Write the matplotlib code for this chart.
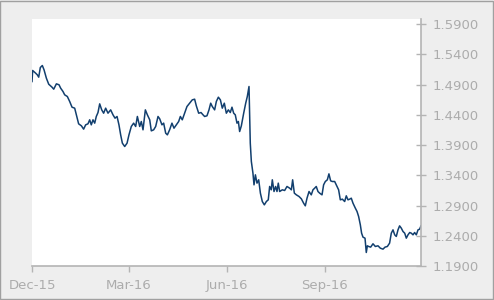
import numpy as np
import pandas as pd
import matplotlib
matplotlib.use("Agg")
import matplotlib.pyplot as plt
import matplotlib.dates as mdates
from matplotlib.patches import Rectangle

# days since 2015-12-01 and the exchange rate
DAYS = [
    0.0, 0.6, 3.4, 5.0, 6.3, 7.8, 9.7, 11.3, 13.5, 15.7, 18.8, 20.4, 22.9, 25.4,
    26.9, 29.1, 30.7, 33.2, 35.4, 37.6, 40.1, 41.7, 43.8, 46.4, 48.5, 50.4, 52.6,
    54.2, 55.7, 57.3, 58.9, 60.4, 62.0, 63.6, 65.5, 67.3, 69.2, 71.4, 73.9, 76.1,
    78.0, 79.9, 81.7, 83.3, 84.9, 87.1, 89.3, 91.1, 93.3, 95.5, 97.4, 99.0, 101.2,
    102.7, 104.3, 106.5, 108.4, 110.6, 112.1, 114.3, 116.2, 118.4, 120.0, 122.1,
    123.7, 125.6, 127.2, 129.3, 131.5, 133.4, 135.6, 137.8, 139.4, 141.2, 143.4,
    145.6, 148.1, 150.6, 152.8, 154.4, 156.6, 158.8, 160.7, 162.2, 164.4, 166.3,
    167.9, 169.4, 171.6, 173.2, 175.1, 177.0, 178.8, 180.7, 182.6, 184.5, 186.3,
    187.9, 189.5, 191.0, 192.6, 193.9, 195.1, 196.7, 198.9, 200.8, 202.3, 203.9,
    205.1, 206.1, 207.6, 208.6, 209.9, 211.4, 213.0, 214.6, 216.4, 218.3, 220.2,
    222.0, 223.3, 224.8, 225.8, 227.4, 228.9, 230.2, 231.4, 232.7, 235.2, 237.4,
    239.6, 242.1, 243.7, 244.9, 246.5, 248.4, 250.9, 253.1, 255.2, 256.8, 258.4,
    260.3, 262.4, 264.0, 265.6, 267.1, 268.7, 270.3, 272.5, 274.0, 275.6, 277.5,
    279.0, 280.6, 282.2, 284.4, 285.9, 288.1, 289.7, 291.6, 293.8, 295.3, 296.9,
    298.5, 300.0, 301.6, 303.8, 305.4, 306.9, 308.5, 309.7, 311.0, 312.9, 314.1,
    315.1, 316.3, 318.2, 320.4, 322.6, 325.1, 327.3, 329.8, 331.7, 333.9, 336.0,
    337.6, 339.2, 340.8, 342.3, 343.9, 345.4, 347.0, 348.6, 350.2, 351.7, 353.3,
    354.9, 356.4, 358.0, 359.5, 361.1, 362.7, 364.2, 365.5,
]
RATE = [
    1.4949, 1.5131, 1.5087, 1.5059, 1.5021, 1.5180, 1.5213, 1.5142, 1.5004, 1.4905,
    1.4856, 1.4823, 1.4911, 1.4895, 1.4840, 1.4785, 1.4730, 1.4702, 1.4620, 1.4526,
    1.4510, 1.4400, 1.4252, 1.4219, 1.4164, 1.4235, 1.4252, 1.4318, 1.4235, 1.4318,
    1.4263, 1.4373, 1.4438, 1.4581, 1.4482, 1.4427, 1.4510, 1.4427, 1.4482, 1.4400,
    1.4345, 1.4373, 1.4235, 1.4070, 1.3933, 1.3878, 1.3933, 1.4070, 1.4208, 1.4263,
    1.4208, 1.4373, 1.4208, 1.4290, 1.4153, 1.4482, 1.4400, 1.4318, 1.4136, 1.4153,
    1.4208, 1.4373, 1.4334, 1.4235, 1.4263, 1.4098, 1.4070, 1.4153, 1.4263, 1.4180,
    1.4235, 1.4290, 1.4373, 1.4318, 1.4427, 1.4537, 1.4592, 1.4647, 1.4658, 1.4548,
    1.4427, 1.4438, 1.4400, 1.4373, 1.4384, 1.4482, 1.4592, 1.4537, 1.4482, 1.4620,
    1.4691, 1.4647, 1.4510, 1.4592, 1.4427, 1.4482, 1.4438, 1.4526, 1.4427, 1.4400,
    1.4263, 1.4290, 1.4125, 1.4219, 1.4427, 1.4592, 1.4702, 1.4867, 1.3933, 1.3631,
    1.3438, 1.3246, 1.3411, 1.3274, 1.3329, 1.3109, 1.2971, 1.2916, 1.2971, 1.2999,
    1.3219, 1.3164, 1.3329, 1.3136, 1.3219, 1.3136, 1.3274, 1.3136, 1.3164, 1.3153,
    1.3219, 1.3191, 1.3164, 1.3329, 1.3109, 1.3081, 1.3054, 1.3015, 1.2944, 1.2900,
    1.3026, 1.3136, 1.3081, 1.3164, 1.3191, 1.3219, 1.3136, 1.3109, 1.3081, 1.3246,
    1.3301, 1.3329, 1.3427, 1.3312, 1.3301, 1.3301, 1.3246, 1.3164, 1.2999, 1.3010,
    1.2971, 1.3065, 1.2999, 1.3010, 1.3026, 1.2944, 1.2862, 1.2807, 1.2724, 1.2587,
    1.2449, 1.2384, 1.2367, 1.2131, 1.2241, 1.2230, 1.2219, 1.2274, 1.2230, 1.2241,
    1.2202, 1.2186, 1.2219, 1.2230, 1.2285, 1.2449, 1.2504, 1.2422, 1.2395, 1.2504,
    1.2570, 1.2532, 1.2477, 1.2449, 1.2367, 1.2422, 1.2460, 1.2449, 1.2422, 1.2460,
    1.2422, 1.2504, 1.2515, 1.2570,
]
Y_TICKS = [1.19, 1.24, 1.29, 1.34, 1.39, 1.44, 1.49, 1.54, 1.59]
X_TICKS = ["2015-12-01", "2016-03-01", "2016-06-01", "2016-09-01"]

START = pd.Timestamp("2015-12-01")
dates = START + pd.to_timedelta(DAYS, unit="D")

BG = "#eeeeee"
AXIS_GREY = "#b4b4b4"
TEXT_GREY = "#acacac"
LINE_BLUE = "#123f6e"

fig = plt.figure(figsize=(4.94, 3.0), dpi=100, facecolor=BG)
ax = fig.add_axes([0.0648, 0.1117, 0.7874, 0.825])
ax.set_facecolor("white")

ax.plot(dates, RATE, color=LINE_BLUE, lw=1.1, solid_joinstyle="round")

ax.set_xlim(START, START + pd.Timedelta(days=365.5))
ax.set_ylim(1.19, 1.598)

# axes: value scale on the right, date scale at the bottom
for side in ("top", "left"):
    ax.spines[side].set_visible(False)
for side in ("right", "bottom"):
    ax.spines[side].set_color(AXIS_GREY)
    ax.spines[side].set_linewidth(1.2)

ax.yaxis.tick_right()
ax.set_yticks(Y_TICKS)
ax.set_yticklabels([f"{v:.4f}" for v in Y_TICKS])
ax.tick_params(axis="y", direction="inout", length=7, width=1.0, color=AXIS_GREY,
               labelcolor=TEXT_GREY, labelsize=9.5, pad=5)

ax.set_xticks(pd.to_datetime(X_TICKS))
ax.xaxis.set_major_formatter(mdates.DateFormatter("%b-%y"))
ax.tick_params(axis="x", direction="out", length=4, width=1.0, color=AXIS_GREY,
               labelcolor=TEXT_GREY, labelsize=9.5, pad=5)

# thin grey frame round the whole picture
fig.patches.append(Rectangle((0.001, 0.002), 0.997, 0.995, transform=fig.transFigure,
                             fill=False, edgecolor="#a0a0a0", lw=1.0))

fig.savefig("out.png", dpi=100, facecolor=BG)
